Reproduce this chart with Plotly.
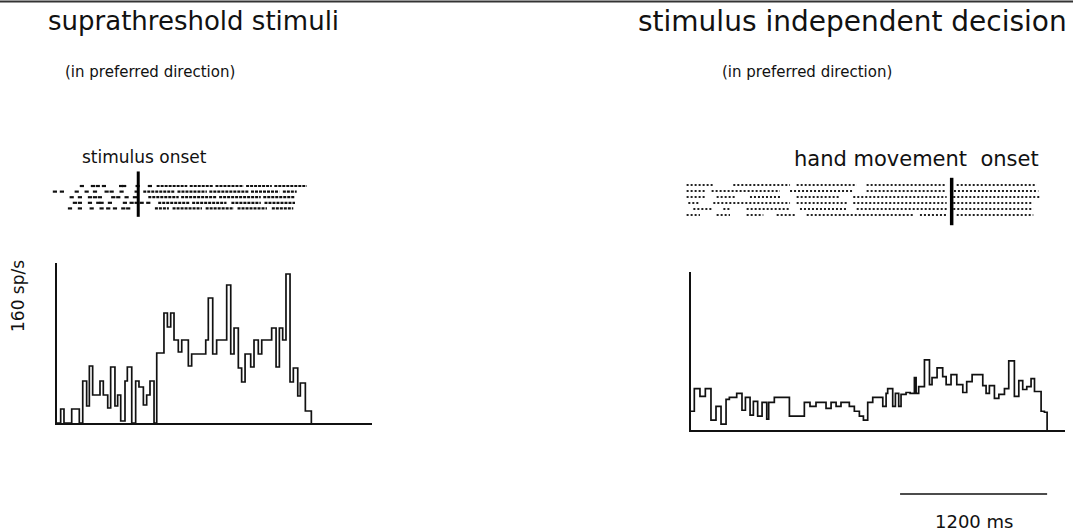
import plotly.graph_objects as go

W, H = 1073, 531

# ---------------- data ----------------
# Left PSTH (suprathreshold stimuli): step edges (ms from window start) and rates (sp/s)
left_edges = [0, 30, 57, 120, 182, 210, 242, 264, 291, 351,
              378, 414, 438, 473, 495, 520, 555, 574, 610, 642,
              669, 705, 732, 759, 792, 814, 873, 901, 928, 955,
              990, 1018, 1072, 1099, 1214, 1235, 1271, 1303, 1385, 1418,
              1445, 1480, 1507, 1535, 1581, 1608, 1643, 1671, 1752, 1788,
              1815, 1842, 1869, 1902, 1929, 1965, 1986, 2027, 2076]
left_rates = [0, 14, 0, 14, 0, 42, 17, 57, 28, 42,
              28, 15, 56, 17, 28, 2, 42, 56, 0, 42,
              36, 18, 28, 42, 0, 70, 110, 96, 110, 83,
              71, 83, 57, 69, 83, 125, 69, 83, 138, 69,
              95, 55, 41, 69, 56, 83, 69, 83, 95, 56,
              95, 83, 149, 41, 55, 27, 40, 12]

# Right PSTH (stimulus independent decision)
right_edges = [0, 27, 73, 117, 163, 204, 245, 286, 313, 373,
               416, 444, 482, 509, 544, 580, 618, 634, 680, 803,
               925, 971, 1020, 1102, 1143, 1184, 1224, 1292, 1333, 1374,
               1407, 1442, 1483, 1565, 1592, 1605, 1646, 1668, 1695, 1714,
               1755, 1788, 1823, 1837, 1858, 1905, 1946, 1967, 2008, 2054,
               2082, 2122, 2169, 2218, 2250, 2294, 2381, 2408, 2435, 2476,
               2512, 2558, 2593, 2639, 2675, 2707, 2740, 2775, 2803, 2857,
               2884, 2906]
right_rates = [19, 42, 34, 42, 10, 24, 6, 31, 33, 37,
               20, 33, 15, 29, 14, 28, 11, 28, 33, 14,
               28, 24, 28, 22, 28, 24, 28, 24, 19, 14,
               10, 28, 33, 24, 37, 42, 24, 37, 24, 36,
               38, 37, 53, 37, 44, 71, 46, 53, 63, 54,
               46, 56, 46, 38, 49, 56, 45, 37, 45, 32,
               36, 42, 70, 34, 50, 41, 44, 52, 39, 19,
               18]

# Left raster (ms relative to stimulus onset): isolated spikes and dense spike runs
left_raster_single = [
    [-460, -370, -330, -280, -140, -115, -5, 95],
    [-680, -623, -502, -421, -353, -258, -217, -136, -13],
    [-543, -476, -394, -353, -313, -204, -163, -95, -27],
    [-517, -476, -394, -326, -299, -231, -109, -54, -13, 28, 82],
    [-557, -476, -380, -299, -245, -190, -122, -82],
]
left_raster_runs = [
    [[150, 400], [420, 610], [630, 860], [880, 1090], [1110, 1375]],
    [[41, 300], [320, 560], [580, 900], [920, 1150], [1180, 1293]],
    [[82, 330], [350, 640], [660, 1000], [1020, 1279]],
    [[163, 420], [440, 720], [760, 1000], [1030, 1279]],
    [[136, 250], [280, 520], [550, 780], [810, 1050], [1090, 1265]],
]

# Right raster (ms relative to hand movement onset): spike runs
right_raster_runs = [
    [[-2163, -1945], [-1782, -1319], [-1265, -775], [-694, -41], [41, 694]],
    [[-2163, -2000], [-1959, -1401], [-1319, -803], [-694, -41], [-14, 707]],
    [[-2163, -2013], [-1918, -1755], [-1646, -1401], [-1265, -911], [-803, -41], [13, 721]],
    [[-2149, -2054], [-1945, -1319], [-1265, -857], [-803, -41], [13, 666]],
    [[-2108, -1945], [-1863, -1809], [-1673, -1319], [-1238, -857], [-775, -41], [13, 666]],
    [[-2163, -2054], [-1918, -1809], [-1673, -1537], [-1428, -1265], [-1183, -313], [-259, -41], [41, 666]],
]

scale_bar_ms = 1200
FONT = "DejaVu Sans"


def px_x(p):
    return p / W


def px_y(p):
    return 1 - p / H


fig = go.Figure()

# ---------- left raster (x, y) ----------
xs, ys = [], []
for r, runs in enumerate(left_raster_runs):
    for s, e in runs:
        xs += [s, e, None]
        ys += [r, r, None]
fig.add_trace(go.Scatter(x=xs, y=ys, mode="lines", xaxis="x", yaxis="y",
                         line=dict(color="#111", width=2.2, dash="3px,1px"),
                         hoverinfo="skip", showlegend=False))
sx, sy = [], []
for r, spikes in enumerate(left_raster_single):
    sx += spikes
    sy += [r] * len(spikes)
fig.add_trace(go.Scatter(x=sx, y=sy, mode="markers", xaxis="x", yaxis="y",
                         marker=dict(symbol="line-ew", size=3,
                                     line=dict(color="#111", width=2.2)),
                         hoverinfo="skip", showlegend=False))
fig.add_trace(go.Scatter(x=[0, 0], y=[-2.6, 5.5], mode="lines", xaxis="x", yaxis="y",
                         line=dict(color="#000", width=3),
                         hoverinfo="skip", showlegend=False))

# ---------- left PSTH (x2, y2) ----------
fig.add_trace(go.Scatter(x=left_edges, y=left_rates + [0], mode="lines",
                         line_shape="hv", xaxis="x2", yaxis="y2",
                         line=dict(color="#111", width=1.7),
                         hoverinfo="skip", showlegend=False))

# ---------- right raster (x3, y3) ----------
xs, ys = [], []
for r, runs in enumerate(right_raster_runs):
    for s, e in runs:
        xs += [s, e, None]
        ys += [r, r, None]
fig.add_trace(go.Scatter(x=xs, y=ys, mode="lines", xaxis="x3", yaxis="y3",
                         line=dict(color="#222", width=2, dash="2px,2px"),
                         hoverinfo="skip", showlegend=False))
fig.add_trace(go.Scatter(x=[0, 0], y=[-1.2, 6.7], mode="lines", xaxis="x3", yaxis="y3",
                         line=dict(color="#000", width=3.5),
                         hoverinfo="skip", showlegend=False))

# ---------- right PSTH (x4, y4) ----------
fig.add_trace(go.Scatter(x=right_edges, y=right_rates + [0], mode="lines",
                         line_shape="hv", xaxis="x4", yaxis="y4",
                         line=dict(color="#111", width=1.7),
                         hoverinfo="skip", showlegend=False))

hidden = dict(visible=False, fixedrange=True)
hist_axis = dict(showline=True, linecolor="#111", linewidth=1.6, showgrid=False,
                 zeroline=False, showticklabels=False, ticks="", fixedrange=True)

fig.update_layout(
    width=W, height=H, autosize=False,
    margin=dict(l=0, r=0, t=0, b=0),
    paper_bgcolor="white", plot_bgcolor="rgba(0,0,0,0)",
    font=dict(family=FONT, color="#111"),
    xaxis=dict(hidden, domain=[px_x(50), px_x(320)], range=[-720, 1483], anchor="y"),
    yaxis=dict(hidden, domain=[px_y(218), px_y(170)], range=[5.71, -2.86], anchor="x"),
    xaxis2=dict(hist_axis, domain=[px_x(57), px_x(372)], range=[0, 2571], anchor="y2"),
    yaxis2=dict(hist_axis, domain=[px_y(423), px_y(263)], range=[0, 160], anchor="x2"),
    xaxis3=dict(hidden, domain=[px_x(680), px_x(1060)], range=[-2217, 884], anchor="y3"),
    yaxis3=dict(hidden, domain=[px_y(226), px_y(176)], range=[6.83, -1.5], anchor="x3"),
    xaxis4=dict(hist_axis, domain=[px_x(691), px_x(1065)], range=[0, 3052], anchor="y4"),
    yaxis4=dict(hist_axis, domain=[px_y(430), px_y(272)], range=[0, 160], anchor="x4"),
)

# top border of scanned page
fig.add_shape(type="line", xref="paper", yref="paper", x0=0, x1=1,
              y0=px_y(1.5), y1=px_y(1.5), line=dict(color="#333", width=2))

# scale bar (in right PSTH time units)
fig.add_shape(type="line", xref="x4", yref="paper",
              x0=right_edges[-1] - scale_bar_ms, x1=right_edges[-1],
              y0=px_y(494), y1=px_y(494), line=dict(color="#111", width=1.5))


def label(text, x, y, size, xanchor="left", angle=0):
    fig.add_annotation(text=text, xref="paper", yref="paper",
                       x=px_x(x), y=px_y(y), xanchor=xanchor, yanchor="middle",
                       showarrow=False, textangle=angle,
                       font=dict(family=FONT, size=size, color="#111"))


label("suprathreshold stimuli", 46, 21, 26)
label("(in preferred direction)", 63, 72, 15)
label("stimulus onset", 80, 157, 17)
label("160 sp/s", 18, 296, 17, xanchor="center", angle=-90)

label("stimulus independent decision", 636, 22, 28)
label("(in preferred direction)", 720, 72, 15)
label("hand movement  onset", 1041, 159, 21, xanchor="right")

label("1200 ms", 974, 521, 18, xanchor="center")

fig.write_html("out.html",
               config={"displayModeBar": False},
               post_script="document.body.style.margin='0';document.body.style.overflow='hidden';")
